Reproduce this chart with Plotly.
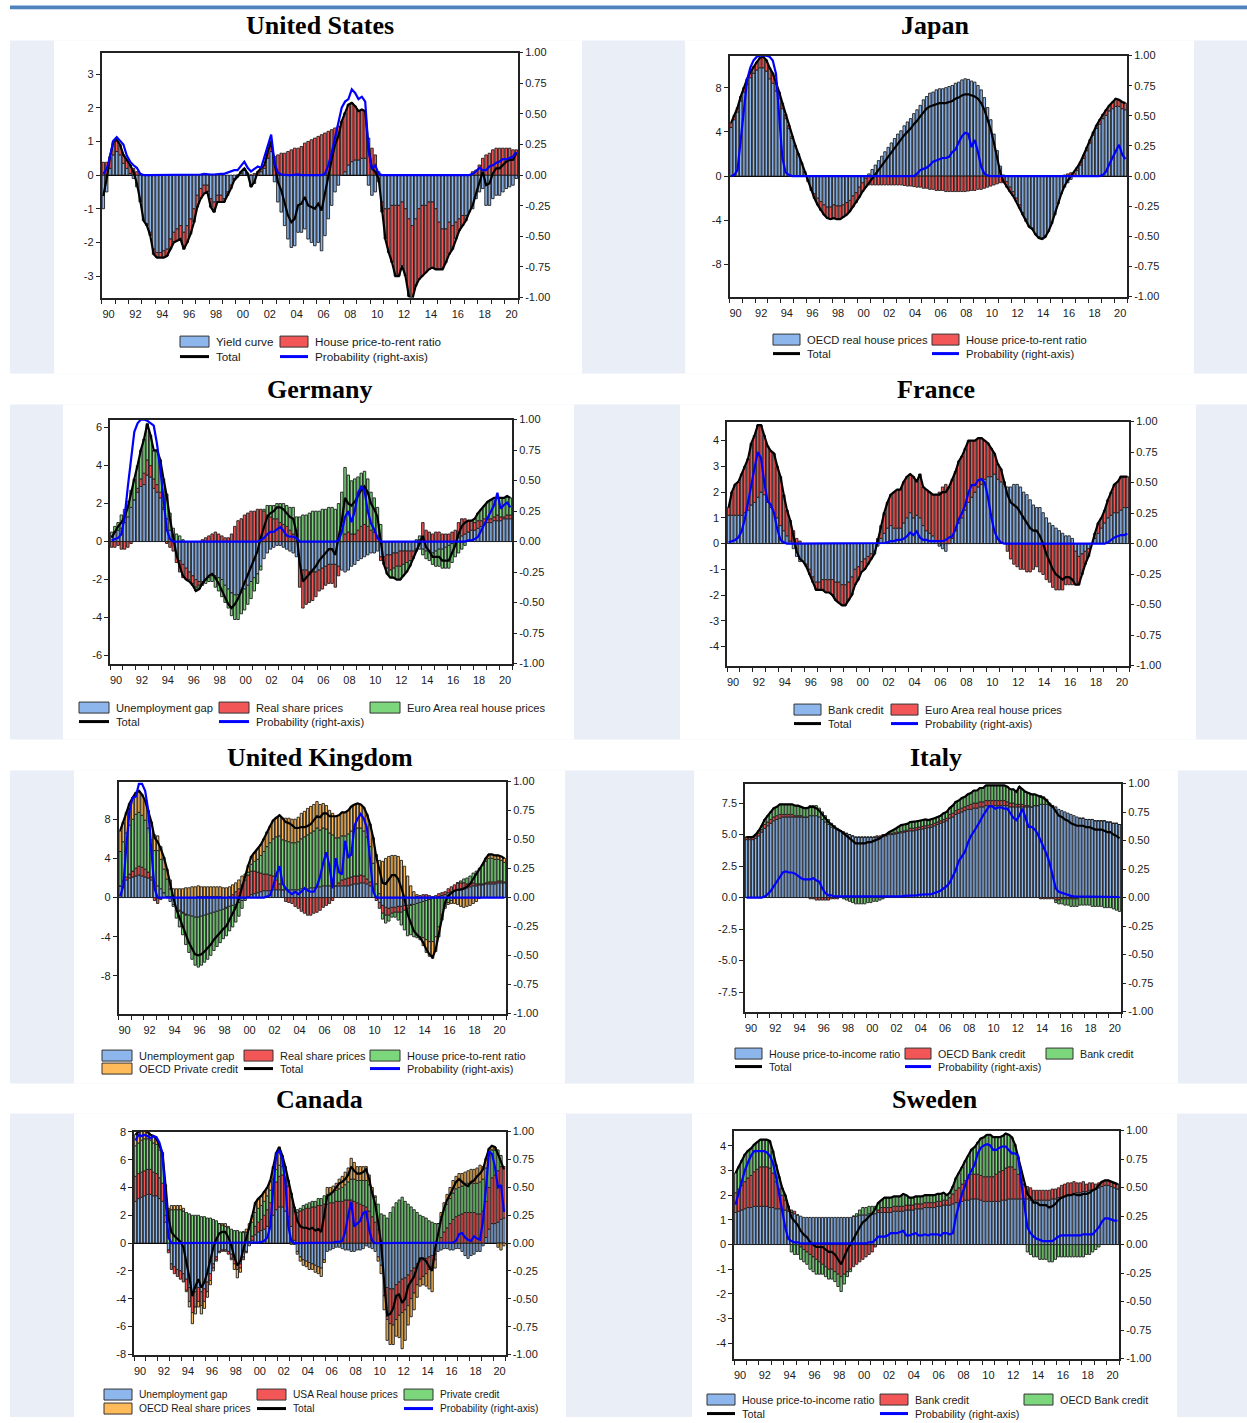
import plotly.graph_objects as go

W, H = 1247, 1423

# Quarterly observations 1990Q1 .. 2020Q4, plotted at mid-quarter
QUARTERS = [y + (q + 0.5) / 4 for y in range(1990, 2021) for q in range(4)]
YEAR_TICKS = list(range(1990, 2022))
YEAR_LABELS = [f"{y % 100:02d}" if (y % 2 == 0 and y <= 2020) else "" for y in YEAR_TICKS]
PROB_TICKS = [-1.0, -0.75, -0.5, -0.25, 0.0, 0.25, 0.5, 0.75, 1.0]
PROB_LABELS = ["-1.00", "-0.75", "-0.50", "-0.25", "0.00", "0.25", "0.50", "0.75", "1.00"]

# ---------------- United States ----------------
US_YIELD = [-1.0, -0.5, 0.2, 0.6, 0.7, 0.6, 0.35, 0.2,
            0.05, -0.1, -0.35, -0.8, -1.35, -1.45, -1.7, -2.2,
            -2.3, -2.3, -2.25, -2.2, -1.9, -1.7, -1.6, -1.5,
            -1.7, -1.5, -1.3, -1.0, -0.6, -0.4, -0.3, -0.3,
            -0.7, -0.8, -0.6, -0.6, -0.7, -0.5, -0.3, -0.1,
            -0.05, 0.05, 0.15, 0.05, -0.35, -0.25, 0.0, 0.1,
            0.2, 0.5, 0.7, -0.2, -0.8, -1.1, -1.5, -1.9,
            -2.15, -2.1, -1.7, -1.7, -1.6, -1.9, -2.0, -2.1,
            -2.0, -2.25, -1.8, -1.3, -0.9, -0.5, -0.3, 0.0,
            0.1, 0.3, 0.4, 0.45, 0.45, 0.5, 0.5, -0.3,
            -0.6, -0.5, -0.2, -0.8, -1.0, -1.0, -0.9, -0.9,
            -0.9, -0.8, -1.0, -1.3, -1.5, -1.3, -1.0, -0.9,
            -0.9, -0.8, -0.8, -1.0, -1.4, -1.6, -1.6, -1.4,
            -1.5, -1.4, -1.3, -1.2, -1.2, -1.1, -1.0, -0.7,
            -0.5, -0.4, -0.9, -0.9, -0.7, -0.6, -0.6, -0.5,
            -0.4, -0.35, -0.3, -0.1]
US_HPR = [0.38, 0.38, 0.35, 0.4, 0.35, 0.3, 0.25, 0.25,
          0.25, 0.2, 0.1, 0.05, 0.0, -0.05, -0.1, -0.15,
          -0.15, -0.15, -0.2, -0.2, -0.3, -0.3, -0.35, -0.4,
          -0.5, -0.5, -0.45, -0.4, -0.35, -0.3, -0.25, -0.2,
          -0.25, -0.3, -0.2, -0.2, -0.1, -0.1, -0.1, -0.05,
          0.0, 0.05, 0.05, 0.0, 0.0, 0.05, 0.1, 0.1,
          0.1, 0.2, 0.3, 0.55, 0.6, 0.65, 0.65, 0.7,
          0.75, 0.8, 0.8, 0.85, 0.95, 1.0, 1.05, 1.1,
          1.15, 1.2, 1.25, 1.3, 1.35, 1.4, 1.45, 1.6,
          1.75, 1.8, 1.75, 1.6, 1.45, 1.45, 1.4, 1.1,
          0.8, 0.6, 0.1, -0.3, -0.9, -1.3, -1.7, -2.1,
          -2.1, -1.9, -2.0, -2.3, -2.2, -2.0, -2.1, -2.1,
          -2.0, -2.0, -1.95, -1.8, -1.4, -1.2, -1.0, -0.95,
          -0.7, -0.5, -0.35, -0.3, -0.15, 0.0, 0.1, 0.15,
          0.3, 0.5, 0.6, 0.65, 0.75, 0.8, 0.8, 0.8,
          0.8, 0.8, 0.75, 0.75]
US_PROB = [0.01, 0.05, 0.15, 0.28, 0.31, 0.28, 0.25, 0.16,
           0.11, 0.08, 0.06, 0.01, 0.0, 0.0, 0.0, 0.0,
           0.0, 0.0, 0.0, 0.0, 0.0, 0.0, 0.0, 0.0,
           0.0, 0.0, 0.0, 0.0, 0.0, 0.005, 0.01, 0.005,
           0.005, 0.005, 0.01, 0.01, 0.01, 0.02, 0.03, 0.04,
           0.04, 0.08, 0.11, 0.06, 0.03, 0.05, 0.07, 0.06,
           0.15, 0.25, 0.33, 0.1, 0.02, 0.005, 0.0, 0.0,
           0.0, 0.005, 0.005, 0.0, 0.0, 0.0, 0.0, 0.0,
           0.0, 0.0, 0.01, 0.08, 0.18, 0.3, 0.42, 0.55,
           0.6, 0.62, 0.7, 0.67, 0.62, 0.64, 0.6, 0.2,
           0.05, 0.08, 0.01, 0.0, 0.0, 0.0, 0.0, 0.0,
           0.0, 0.0, 0.0, 0.0, 0.0, 0.0, 0.0, 0.0,
           0.0, 0.0, 0.0, 0.0, 0.0, 0.0, 0.0, 0.0,
           0.0, 0.0, 0.0, 0.0, 0.0, 0.0, 0.01, 0.03,
           0.06, 0.04, 0.04, 0.07, 0.08, 0.1, 0.11, 0.13,
           0.13, 0.14, 0.15, 0.19]

# ---------------- Japan ----------------
JP_HOUSE = [4.4, 5.1, 5.8, 6.8, 7.6, 8.3, 8.9, 9.3,
            9.6, 9.8, 9.8, 9.5, 8.8, 8.4, 7.7, 7.0,
            6.1, 5.2, 4.3, 3.4, 2.7, 2.0, 1.2, 0.4,
            -0.4, -1.1, -1.6, -2.0, -2.3, -2.6, -2.8, -2.8,
            -2.6, -2.7, -2.7, -2.6, -2.4, -2.2, -1.8, -1.5,
            -1.0, -0.6, -0.2, 0.2, 0.6, 1.0, 1.4, 1.8,
            2.2, 2.6, 3.0, 3.4, 3.8, 4.1, 4.55, 4.9,
            5.2, 5.65, 6.0, 6.4, 6.9, 7.2, 7.5, 7.6,
            7.8, 7.9, 7.9, 8.0, 8.1, 8.2, 8.4, 8.5,
            8.7, 8.8, 8.75, 8.6, 8.5, 8.2, 7.8, 7.1,
            6.2, 5.1, 3.8, 2.3, 0.9, 0.1, -0.5, -1.0,
            -1.4, -2.0, -2.6, -3.3, -3.9, -4.5, -4.7, -5.2,
            -5.5, -5.6, -5.4, -5.0, -4.3, -3.5, -2.5, -1.6,
            -1.0, -0.6, -0.3, 0.0, 0.5, 1.0, 1.6, 2.3,
            3.0, 3.7, 4.3, 4.7, 5.2, 5.5, 5.9, 6.1,
            6.3, 6.3, 6.1, 6.0]
JP_HPR = [0.4, 0.4, 0.4, 0.4, 0.4, 0.5, 0.5, 0.6,
          0.7, 0.9, 1.0, 1.0, 1.0, 0.9, 0.8, 0.6,
          0.5, 0.4, 0.3, 0.2, 0.1, 0.0, 0.0, 0.0,
          -0.1, -0.2, -0.4, -0.6, -0.8, -0.9, -1.0, -1.1,
          -1.2, -1.2, -1.2, -1.1, -1.1, -1.0, -1.0, -0.9,
          -0.9, -0.8, -0.8, -0.8, -0.8, -0.8, -0.8, -0.8,
          -0.8, -0.8, -0.8, -0.8, -0.8, -0.8, -0.85, -0.9,
          -0.9, -0.95, -1.0, -1.0, -1.1, -1.1, -1.2, -1.2,
          -1.3, -1.3, -1.3, -1.4, -1.4, -1.4, -1.4, -1.4,
          -1.4, -1.4, -1.35, -1.3, -1.3, -1.2, -1.2, -1.1,
          -1.0, -0.9, -0.8, -0.7, -0.6, -0.6, -0.5, -0.4,
          -0.4, -0.3, -0.3, -0.2, -0.2, -0.1, -0.1, -0.1,
          -0.1, -0.1, -0.1, 0.0, 0.0, 0.0, 0.0, 0.0,
          0.1, 0.2, 0.3, 0.3, 0.3, 0.3, 0.3, 0.3,
          0.3, 0.3, 0.3, 0.4, 0.4, 0.5, 0.5, 0.6,
          0.7, 0.6, 0.6, 0.6]
JP_PROB = [0.0, 0.01, 0.05, 0.3, 0.6, 0.8, 0.9, 0.96,
           0.99, 1.0, 1.0, 1.0, 0.99, 0.96, 0.85, 0.5,
           0.15, 0.03, 0.01, 0.0, 0.0, 0.0, 0.0, 0.0,
           0.0, 0.0, 0.0, 0.0, 0.0, 0.0, 0.0, 0.0,
           0.0, 0.0, 0.0, 0.0, 0.0, 0.0, 0.0, 0.0,
           0.0, 0.0, 0.0, 0.0, 0.0, 0.0, 0.0, 0.0,
           0.0, 0.0, 0.0, 0.0, 0.0, 0.0, 0.0, 0.0,
           0.0, 0.0, 0.02, 0.05, 0.06, 0.07, 0.09, 0.12,
           0.13, 0.14, 0.15, 0.15, 0.16, 0.2, 0.22, 0.28,
           0.33, 0.36, 0.35, 0.24, 0.3, 0.2, 0.08, 0.02,
           0.005, 0.0, 0.0, 0.0, 0.0, 0.0, 0.0, 0.0,
           0.0, 0.0, 0.0, 0.0, 0.0, 0.0, 0.0, 0.0,
           0.0, 0.0, 0.0, 0.0, 0.0, 0.0, 0.0, 0.0,
           0.0, 0.0, 0.0, 0.0, 0.0, 0.0, 0.0, 0.0,
           0.0, 0.0, 0.0, 0.0, 0.01, 0.04, 0.1, 0.15,
           0.2, 0.26, 0.18, 0.14]

# ---------------- Germany ----------------
DE_UNEMP = [0.3, 0.5, 0.6, 0.7, 1.0, 1.3, 1.8, 2.2,
            2.6, 2.9, 3.0, 3.5, 3.4, 2.8, 2.6, 2.3,
            1.7, 1.2, 0.6, 0.1, -0.6, -1.0, -1.2, -1.4,
            -1.6, -1.8, -2.0, -2.1, -2.1, -2.0, -1.9, -1.8,
            -1.8, -1.9, -2.0, -2.3, -2.5, -2.7, -2.8, -2.8,
            -2.7, -2.5, -2.3, -2.1, -1.9, -1.7, -1.3, -0.9,
            -0.6, -0.4, -0.3, -0.2, -0.2, -0.3, -0.4, -0.5,
            -0.6, -0.8, -1.2, -1.5, -1.5, -1.6, -1.6, -1.6,
            -1.5, -1.4, -1.3, -1.2, -1.2, -1.2, -1.3, -1.5,
            -1.6, -1.5, -1.3, -1.2, -1.0, -0.9, -0.8, -0.7,
            -0.6, -0.6, -0.5, -0.8, -0.8, -0.7, -0.7, -0.6,
            -0.6, -0.5, -0.5, -0.5, -0.5, -0.5, -0.4, -0.4,
            -0.4, -0.5, -0.5, -0.6, -0.5, -0.4, -0.4, -0.3,
            -0.2, -0.1, 0.0, 0.2, 0.3, 0.4, 0.5, 0.6,
            0.6, 0.7, 0.8, 0.9, 1.0, 1.0, 1.1, 1.1,
            1.1, 1.2, 1.2, 1.2]
DE_SHARE = [-0.3, -0.3, -0.2, -0.4, -0.4, -0.3, -0.1, 0.0,
            0.2, 0.4, 0.6, 0.8, 0.6, 0.5, 0.4, 0.3,
            0.1, -0.1, -0.3, -0.5, -0.5, -0.6, -0.7, -0.6,
            -0.4, -0.4, -0.4, -0.2, 0.1, 0.2, 0.3, 0.4,
            0.5, 0.4, 0.3, 0.2, 0.2, 0.4, 0.8, 1.1,
            1.2, 1.4, 1.5, 1.6, 1.6, 1.7, 1.7, 1.6,
            1.4, 1.3, 1.2, 1.2, 1.0, 0.9, 0.8, 0.6,
            0.4, 0.0, -1.2, -2.0, -1.8, -1.6, -1.5, -1.3,
            -1.1, -1.1, -1.0, -1.0, -1.0, -1.2, -0.5, 0.0,
            0.4, 0.5, 0.4, 0.4, 0.6, 0.8, 0.9, 0.8,
            0.6, 0.5, 0.3, -0.2, -0.4, -0.7, -0.8, -0.8,
            -0.7, -0.8, -0.7, -0.6, -0.5, -0.3, -0.1, 0.1,
            1.0, 0.6, 0.5, 0.4, 0.5, 0.5, 0.4, 0.4,
            0.4, 0.5, 0.6, 0.8, 0.9, 0.8, 0.6, 0.5,
            0.4, 0.4, 0.3, 0.3, 0.2, 0.2, 0.2, 0.3,
            0.2, 0.1, 0.2, 0.2]
DE_HOUSE = [0.2, 0.3, 0.4, 0.7, 0.7, 0.8, 0.9, 1.1,
            1.2, 1.5, 1.8, 1.9, 1.6, 1.5, 1.8, 1.7,
            1.5, 1.3, 0.9, 0.6, 0.4, 0.3, 0.1, 0.0,
            -0.1, -0.1, -0.2, -0.2, -0.2, -0.2, -0.2, -0.3,
            -0.6, -0.7, -0.9, -0.9, -1.0, -1.2, -1.3, -1.3,
            -1.1, -1.1, -1.0, -0.9, -0.7, -0.5, -0.2, 0.1,
            0.5, 0.6, 0.7, 0.8, 1.0, 1.1, 1.1, 1.2,
            1.4, 1.3, 1.3, 1.4, 1.4, 1.5, 1.6, 1.6,
            1.6, 1.7, 1.7, 1.8, 1.8, 1.7, 2.0, 2.6,
            3.5, 3.0, 2.8, 2.9, 2.8, 2.8, 2.8, 2.5,
            2.0, 1.8, 1.5, 0.9, 0.0, -0.3, -0.4, -0.5,
            -0.7, -0.7, -0.6, -0.5, -0.3, -0.1, 0.1, 0.2,
            -0.3, -0.4, -0.5, -0.6, -0.8, -0.9, -1.0, -1.1,
            -1.2, -1.0, -0.8, -0.6, -0.4, -0.2, 0.0, 0.0,
            0.2, 0.4, 0.6, 0.7, 0.9, 1.0, 1.0, 0.9,
            1.0, 1.0, 1.0, 0.9]
DE_PROB = [0.01, 0.02, 0.03, 0.06, 0.2, 0.45, 0.7, 0.9,
           0.97, 1.0, 1.0, 0.99, 0.97, 0.95, 0.8, 0.6,
           0.35, 0.1, 0.02, 0.0, 0.0, 0.0, 0.0, 0.0,
           0.0, 0.0, 0.0, 0.0, 0.0, 0.0, 0.0, 0.0,
           0.0, 0.0, 0.0, 0.0, 0.0, 0.0, 0.0, 0.0,
           0.0, 0.0, 0.0, 0.0, 0.0, 0.0, 0.01, 0.03,
           0.06, 0.08, 0.08, 0.1, 0.12, 0.09, 0.05, 0.04,
           0.04, 0.03, 0.0, 0.0, 0.0, 0.0, 0.0, 0.0,
           0.0, 0.0, 0.0, 0.0, 0.0, 0.0, 0.01, 0.08,
           0.2, 0.25, 0.16, 0.25, 0.4, 0.45, 0.42, 0.25,
           0.15, 0.1, 0.03, 0.0, 0.0, 0.0, 0.0, 0.0,
           0.0, 0.0, 0.0, 0.0, 0.0, 0.0, 0.0, 0.0,
           0.0, 0.0, 0.0, 0.0, 0.0, 0.0, 0.0, 0.0,
           0.0, 0.0, 0.0, 0.0, 0.0, 0.0, 0.01, 0.01,
           0.02, 0.04, 0.09, 0.14, 0.2, 0.24, 0.3, 0.4,
           0.27, 0.3, 0.32, 0.28]

# ---------------- France ----------------
FR_BANK = [1.1, 1.1, 1.1, 1.1, 1.1, 1.2, 1.3, 1.5,
           1.6, 1.8, 2.0, 1.9, 1.6, 1.4, 1.2, 1.0,
           0.7, 0.5, 0.3, 0.1, -0.2, -0.5, -0.7, -0.7,
           -0.8, -1.0, -1.3, -1.5, -1.5, -1.4, -1.4, -1.4,
           -1.4, -1.5, -1.5, -1.6, -1.6, -1.5, -1.3, -1.0,
           -0.9, -0.7, -0.6, -0.5, -0.4, -0.3, -0.1, 0.2,
           0.4, 0.6, 0.7, 0.6, 0.6, 0.6, 0.8, 1.0,
           1.2, 1.0, 1.1, 1.0, 0.7, 0.5, 0.4, 0.3,
           0.1, -0.1, -0.2, -0.3, 0.0, 0.2, 0.5, 0.8,
           1.0, 1.3, 1.6, 1.8, 2.0, 2.2, 2.3, 2.5,
           2.6, 2.6, 2.7, 2.5, 2.4, 2.3, 2.2, 2.2,
           2.3, 2.3, 2.2, 2.0, 1.9, 1.7, 1.5, 1.4,
           1.4, 1.2, 1.0, 0.8, 0.7, 0.6, 0.5, 0.4,
           0.3, 0.3, 0.2, -0.3, -0.5, -0.4, -0.3, -0.2,
           0.0, 0.2, 0.4, 0.6, 0.8, 1.0, 1.1, 1.2,
           1.2, 1.3, 1.4, 1.4]
FR_HOUSE = [0.3, 0.9, 1.2, 1.3, 1.6, 1.8, 2.0, 2.4,
            2.6, 2.8, 2.6, 2.3, 2.2, 2.2, 2.3, 2.0,
            1.9, 1.4, 1.0, 0.8, 0.5, 0.2, 0.1, 0.0,
            -0.1, -0.2, -0.2, -0.3, -0.3, -0.4, -0.5, -0.5,
            -0.6, -0.7, -0.8, -0.8, -0.8, -0.7, -0.7, -0.6,
            -0.5, -0.4, -0.4, -0.3, -0.2, -0.1, 0.2, 0.5,
            0.8, 1.0, 1.2, 1.4, 1.5, 1.5, 1.6, 1.6,
            1.5, 1.6, 1.3, 1.7, 1.5, 1.6, 1.6, 1.6,
            1.8, 2.0, 2.2, 2.3, 2.2, 2.3, 2.3, 2.4,
            2.4, 2.4, 2.4, 2.2, 2.0, 1.9, 1.8, 1.5,
            1.3, 1.1, 0.8, 0.6, 0.5, 0.1, -0.3, -0.6,
            -0.8, -0.9, -1.0, -1.0, -1.1, -1.1, -1.0, -0.9,
            -1.1, -1.2, -1.4, -1.5, -1.7, -1.8, -1.8, -1.8,
            -1.6, -1.6, -1.6, -1.3, -1.1, -0.8, -0.5, -0.3,
            0.0, 0.2, 0.4, 0.4, 0.5, 0.7, 0.9, 1.1,
            1.2, 1.3, 1.2, 1.2]
FR_PROB = [0.01, 0.02, 0.03, 0.05, 0.1, 0.2, 0.35, 0.5,
           0.62, 0.75, 0.7, 0.5, 0.35, 0.32, 0.25, 0.12,
           0.03, 0.01, 0.0, 0.0, 0.0, 0.0, 0.0, 0.0,
           0.0, 0.0, 0.0, 0.0, 0.0, 0.0, 0.0, 0.0,
           0.0, 0.0, 0.0, 0.0, 0.0, 0.0, 0.0, 0.0,
           0.0, 0.0, 0.0, 0.0, 0.0, 0.0, 0.0, 0.0,
           0.005, 0.01, 0.02, 0.02, 0.03, 0.03, 0.04, 0.06,
           0.09, 0.07, 0.1, 0.05, 0.03, 0.03, 0.02, 0.02,
           0.02, 0.02, 0.02, 0.03, 0.05, 0.06, 0.12, 0.2,
           0.25, 0.32, 0.42, 0.48, 0.48, 0.52, 0.53, 0.5,
           0.38, 0.22, 0.1, 0.04, 0.01, 0.0, 0.0, 0.0,
           0.0, 0.0, 0.0, 0.0, 0.0, 0.0, 0.0, 0.0,
           0.0, 0.0, 0.0, 0.0, 0.0, 0.0, 0.0, 0.0,
           0.0, 0.0, 0.0, 0.0, 0.0, 0.0, 0.0, 0.0,
           0.0, 0.0, 0.0, 0.0, 0.0, 0.01, 0.03, 0.05,
           0.06, 0.07, 0.07, 0.08]

# ---------------- United Kingdom ----------------
UK_UNEMP = [1.2, 1.5, 1.8, 2.0, 2.1, 2.2, 2.3, 2.2,
            2.1, 2.0, 1.8, 1.5, 1.2, 0.9, 0.5, 0.0,
            -0.4, -0.7, -1.0, -1.3, -1.5, -1.7, -1.8, -1.9,
            -2.0, -2.0, -1.9, -1.8, -1.7, -1.6, -1.5, -1.4,
            -1.3, -1.2, -1.0, -0.9, -0.8, -0.7, -0.5, -0.3,
            -0.1, 0.1, 0.3, 0.4, 0.5, 0.6, 0.7, 0.7,
            0.7, 0.8, 0.8, 0.8, 0.8, 0.8, 0.8, 0.8,
            0.8, 0.8, 0.9, 0.9, 0.9, 1.0, 1.0, 1.1,
            1.1, 1.2, 1.2, 1.2, 1.2, 1.2, 1.2, 1.2,
            1.2, 1.2, 1.3, 1.4, 1.4, 1.5, 1.5, 1.4,
            1.2, 0.8, 0.0, -0.5, -0.8, -1.0, -1.1, -1.0,
            -1.0, -0.9, -0.9, -0.8, -0.8, -0.7, -0.7, -0.6,
            -0.5, -0.4, -0.3, -0.2, -0.1, 0.0, 0.1, 0.2,
            0.3, 0.5, 0.6, 0.7, 0.8, 0.9, 1.0, 1.0,
            1.1, 1.2, 1.2, 1.3, 1.3, 1.4, 1.4, 1.4,
            1.4, 1.5, 1.5, 1.5]
UK_SHARE = [0.0, 0.2, 0.3, 0.4, 0.6, 0.8, 0.9, 0.9,
            0.8, 0.6, 0.3, -0.3, -0.6, -0.2, 0.0, 0.1,
            0.1, 0.0, -0.1, -0.1, -0.1, -0.1, 0.0, 0.0,
            0.0, 0.1, 0.1, 0.1, 0.1, 0.1, 0.1, 0.1,
            0.1, 0.0, -0.1, 0.1, 0.3, 0.6, 0.9, 1.3,
            1.8, 2.2, 2.4, 2.3, 2.1, 1.9, 1.7, 1.7,
            1.6, 1.4, 1.0, 0.6, 0.0, -0.4, -0.5, -0.6,
            -0.9, -1.1, -1.4, -1.6, -1.8, -1.8, -1.6, -1.5,
            -1.3, -1.0, -0.8, -0.6, -0.3, 0.0, 0.3, 0.6,
            0.7, 0.8, 0.8, 0.8, 0.8, 0.8, 0.7, 0.5,
            0.4, 0.1, -0.3, -0.6, -0.8, -0.8, -0.7, -0.6,
            -0.5, -0.6, -0.6, -0.5, -0.3, -0.1, 0.0, 0.1,
            0.2, 0.3, 0.3, 0.2, 0.1, 0.2, 0.3, 0.3,
            0.3, 0.4, 0.5, 0.6, 0.7, 0.6, 0.5, 0.4,
            0.3, 0.3, 0.2, 0.1, 0.1, 0.1, 0.2, 0.2,
            0.2, 0.2, 0.2, 0.1]
UK_HPR = [3.5, 4.0, 4.5, 5.0, 5.3, 5.5, 5.5, 5.3,
          5.0, 4.5, 3.8, 3.3, 3.6, 3.0, 2.4, 1.8,
          0.8, -0.2, -1.0, -1.6, -2.2, -3.0, -3.8, -4.4,
          -4.9, -5.1, -5.0, -4.8, -4.6, -4.3, -3.9, -3.6,
          -3.3, -3.0, -2.8, -2.5, -2.2, -1.8, -1.4, -0.8,
          -0.2, 0.3, 0.7, 1.0, 1.3, 1.8, 2.3, 2.8,
          3.3, 3.8, 4.4, 4.9, 5.1, 5.0, 4.9, 4.8,
          4.8, 4.9, 5.1, 5.3, 5.5, 5.6, 5.8, 6.0,
          5.8, 5.9, 5.8, 5.4, 5.2, 4.9, 4.6, 4.5,
          4.4, 4.5, 4.7, 4.8, 4.9, 4.8, 4.6, 4.3,
          3.6, 2.6, 1.4, 0.4, -0.6, -0.8, -0.6, -0.4,
          -0.5, -0.8, -1.3, -2.0, -2.8, -3.0, -3.3, -3.5,
          -3.5, -3.7, -4.0, -4.3, -4.4, -4.0, -3.0, -1.8,
          -0.9, -0.5, -0.3, -0.1, 0.0, 0.2, 0.4, 0.6,
          0.8, 1.0, 1.3, 1.6, 1.9, 2.2, 2.4, 2.4,
          2.3, 2.2, 2.1, 2.0]
UK_CREDIT = [2.1, 2.0, 2.1, 2.2, 2.2, 2.2, 2.2, 2.1,
             2.0, 1.8, 1.8, 1.6, 1.5, 1.3, 1.2, 1.0,
             0.9, 0.9, 0.9, 0.9, 0.9, 1.0, 1.0, 1.1,
             1.1, 1.1, 1.0, 1.0, 1.0, 1.0, 1.0, 1.0,
             1.0, 1.0, 1.0, 1.0, 1.0, 0.9, 0.9, 0.9,
             0.6, 0.7, 0.8, 0.9, 1.0, 1.1, 1.3, 1.5,
             1.7, 1.9, 2.0, 2.1, 2.2, 2.3, 2.4, 2.4,
             2.4, 2.5, 2.6, 2.6, 2.7, 2.7, 2.7, 2.7,
             2.6, 2.5, 2.4, 2.3, 2.2, 2.2, 2.3, 2.4,
             2.4, 2.4, 2.5, 2.5, 2.5, 2.4, 2.4, 2.3,
             2.3, 2.6, 3.0, 3.4, 3.7, 4.0, 4.2, 4.3,
             4.3, 4.2, 3.8, 3.2, 2.2, 1.2, 0.6, 0.2,
             -0.3, -0.8, -1.3, -1.5, -1.7, -1.5, -1.0, -0.5,
             -0.2, -0.2, -0.3, -0.5, -0.7, -0.9, -1.0, -0.9,
             -0.8, -0.6, -0.4, -0.1, 0.1, 0.3, 0.4, 0.4,
             0.4, 0.4, 0.4, 0.4]
UK_PROB = [0.01, 0.1, 0.45, 0.75, 0.86, 0.87, 0.98, 0.98,
           0.92, 0.75, 0.4, 0.08, 0.0, 0.0, 0.0, 0.0,
           0.0, 0.0, 0.0, 0.0, 0.0, 0.0, 0.0, 0.0,
           0.0, 0.0, 0.0, 0.0, 0.0, 0.0, 0.0, 0.0,
           0.0, 0.0, 0.0, 0.0, 0.0, 0.0, 0.0, 0.0,
           0.0, 0.0, 0.0, 0.0, 0.0, 0.0, 0.0, 0.01,
           0.02, 0.1, 0.2, 0.27, 0.12, 0.08, 0.05, 0.03,
           0.05, 0.03, 0.05, 0.08, 0.06, 0.05, 0.05, 0.1,
           0.18, 0.3, 0.39, 0.27, 0.08, 0.34, 0.22, 0.2,
           0.49, 0.35, 0.37, 0.62, 0.68, 0.72, 0.68, 0.6,
           0.3, 0.05, 0.0, 0.0, 0.0, 0.0, 0.0, 0.0,
           0.0, 0.0, 0.0, 0.0, 0.0, 0.0, 0.0, 0.0,
           0.0, 0.0, 0.0, 0.0, 0.0, 0.0, 0.0, 0.0,
           0.0, 0.0, 0.0, 0.0, 0.0, 0.0, 0.0, 0.0,
           0.0, 0.0, 0.0, 0.0, 0.0, 0.0, 0.0, 0.0,
           0.0, 0.0, 0.0, 0.0]

# ---------------- Italy ----------------
IT_HPI = [4.6, 4.6, 4.6, 4.7, 4.9, 5.2, 5.5, 5.7,
          5.9, 6.1, 6.2, 6.3, 6.4, 6.4, 6.4, 6.4,
          6.4, 6.4, 6.4, 6.4, 6.4, 6.5, 6.5, 6.5,
          6.4, 6.2, 6.0, 5.8, 5.6, 5.5, 5.4, 5.3,
          5.2, 5.1, 5.0, 4.9, 4.8, 4.8, 4.8, 4.8,
          4.8, 4.8, 4.8, 4.8, 4.8, 4.9, 4.9, 5.0,
          5.0, 5.05, 5.1, 5.15, 5.2, 5.25, 5.3, 5.3,
          5.35, 5.4, 5.45, 5.5, 5.55, 5.6, 5.7, 5.8,
          5.9, 6.0, 6.1, 6.3, 6.4, 6.6, 6.7, 6.8,
          6.9, 7.0, 7.0, 7.1, 7.1, 7.2, 7.2, 7.3,
          7.3, 7.3, 7.3, 7.3, 7.3, 7.3, 7.3, 7.2,
          7.2, 7.2, 7.2, 7.2, 7.2, 7.2, 7.2, 7.3,
          7.3, 7.4, 7.4, 7.4, 7.3, 7.3, 7.2, 7.0,
          6.9, 6.8, 6.7, 6.6, 6.5, 6.4, 6.3, 6.3,
          6.2, 6.2, 6.2, 6.1, 6.1, 6.1, 6.1, 6.0,
          6.0, 5.9, 5.9, 5.8]
IT_OECD = [0.2, 0.2, 0.2, 0.2, 0.2, 0.2, 0.3, 0.3,
           0.3, 0.3, 0.3, 0.3, 0.2, 0.2, 0.2, 0.2,
           0.1, 0.1, 0.1, 0.0, 0.0, -0.1, -0.1, -0.2,
           -0.2, -0.2, -0.2, -0.2, -0.1, -0.1, -0.1, 0.0,
           0.0, 0.0, 0.0, 0.0, 0.0, 0.0, 0.0, 0.0,
           0.0, 0.0, 0.0, 0.1, 0.1, 0.1, 0.1, 0.1,
           0.1, 0.1, 0.1, 0.1, 0.1, 0.1, 0.2, 0.2,
           0.2, 0.2, 0.2, 0.2, 0.2, 0.2, 0.2, 0.2,
           0.2, 0.2, 0.2, 0.3, 0.3, 0.3, 0.3, 0.3,
           0.3, 0.3, 0.4, 0.4, 0.4, 0.4, 0.4, 0.4,
           0.4, 0.4, 0.4, 0.4, 0.4, 0.4, 0.3, 0.3,
           0.3, 0.2, 0.2, 0.2, 0.1, 0.1, 0.0, 0.0,
           0.0, -0.1, -0.1, -0.1, -0.1, -0.1, -0.2, -0.2,
           -0.1, -0.1, -0.1, -0.1, -0.1, -0.1, 0.0, 0.0,
           0.0, 0.0, 0.0, 0.0, 0.0, 0.0, 0.0, 0.0,
           0.0, 0.0, 0.0, 0.0]
IT_BANK = [0.0, 0.0, 0.0, 0.1, 0.2, 0.3, 0.4, 0.5,
           0.6, 0.7, 0.7, 0.8, 0.8, 0.8, 0.8, 0.8,
           0.8, 0.8, 0.7, 0.7, 0.7, 0.8, 0.8, 0.8,
           0.7, 0.6, 0.5, 0.4, 0.3, 0.2, 0.1, 0.0,
           -0.1, -0.2, -0.3, -0.4, -0.5, -0.5, -0.5, -0.5,
           -0.4, -0.4, -0.3, -0.3, -0.2, -0.1, 0.0, 0.1,
           0.2, 0.3, 0.4, 0.5, 0.5, 0.5, 0.5, 0.5,
           0.5, 0.5, 0.5, 0.5, 0.4, 0.4, 0.4, 0.4,
           0.4, 0.5, 0.5, 0.5, 0.6, 0.7, 0.7, 0.8,
           0.8, 0.9, 0.9, 1.0, 1.0, 1.1, 1.1, 1.2,
           1.2, 1.2, 1.2, 1.2, 1.2, 1.2, 1.2, 1.1,
           1.1, 1.0, 1.4, 1.2, 1.1, 1.0, 1.0, 0.9,
           0.8, 0.7, 0.6, 0.4, 0.2, 0.0, -0.2, -0.3,
           -0.4, -0.5, -0.5, -0.6, -0.6, -0.6, -0.6, -0.6,
           -0.6, -0.6, -0.7, -0.7, -0.7, -0.7, -0.8, -0.8,
           -0.8, -0.9, -1.0, -1.1]
IT_PROB = [0.0, 0.0, 0.0, 0.0, 0.0, 0.0, 0.01, 0.03,
           0.06, 0.1, 0.14, 0.18, 0.22, 0.23, 0.22, 0.22,
           0.21, 0.19, 0.17, 0.16, 0.16, 0.16, 0.17, 0.15,
           0.14, 0.08, 0.04, 0.02, 0.02, 0.01, 0.01, 0.01,
           0.01, 0.005, 0.005, 0.005, 0.005, 0.005, 0.005, 0.005,
           0.005, 0.005, 0.005, 0.005, 0.005, 0.005, 0.005, 0.005,
           0.005, 0.01, 0.01, 0.01, 0.015, 0.015, 0.02, 0.02,
           0.02, 0.025, 0.025, 0.03, 0.03, 0.03, 0.04, 0.05,
           0.06, 0.08, 0.1, 0.13, 0.18, 0.24, 0.32, 0.36,
           0.4, 0.48, 0.54, 0.58, 0.62, 0.67, 0.72, 0.76,
           0.8, 0.8, 0.78, 0.79, 0.79, 0.78, 0.78, 0.74,
           0.7, 0.68, 0.72, 0.78, 0.7, 0.62, 0.62, 0.6,
           0.56, 0.5, 0.44, 0.38, 0.3, 0.2, 0.08, 0.05,
           0.04, 0.03, 0.02, 0.015, 0.01, 0.01, 0.01, 0.01,
           0.005, 0.005, 0.005, 0.005, 0.005, 0.005, 0.005, 0.005,
           0.005, 0.005, 0.005, 0.005]

# ---------------- Canada ----------------
CA_UNEMP = [3.0, 3.2, 3.3, 3.4, 3.5, 3.5, 3.4, 3.4,
            3.2, 3.0, 1.5, -0.5, -1.5, -1.7, -1.9, -2.0,
            -2.2, -2.6, -3.2, -3.8, -3.5, -3.2, -3.5, -3.3,
            -2.8, -2.2, -1.5, -1.0, -0.6, -0.5, -0.5, -0.6,
            -0.8, -1.2, -1.6, -1.5, -1.0, -0.6, -0.2, 0.2,
            0.6, 0.8, 0.9, 1.0, 1.2, 1.5, 2.0, 2.4,
            2.6, 2.6, 2.3, 1.9, 1.2, 0.2, -0.6, -1.0,
            -1.2, -1.3, -1.4, -1.5, -1.6, -1.7, -1.8, -1.2,
            -0.6, -0.5, -0.4, -0.3, -0.3, -0.4, -0.5, -0.5,
            -0.6, -0.6, -0.5, -0.5, -0.4, -0.2, -0.3, -0.4,
            -0.6, -1.0, -1.6, -2.6, -3.2, -3.3, -3.3, -3.0,
            -2.8, -2.6, -2.5, -2.3, -2.0, -1.8, -1.5, -1.3,
            -1.2, -1.1, -1.0, -0.9, -0.8, -0.6, -0.5, -0.4,
            -0.4, -0.5, -0.5, -0.4, -0.4, -0.6, -0.9, -1.1,
            -0.9, -0.8, -0.6, -0.6, -0.2, 0.4, 1.0, 1.4,
            1.4, 1.5, 1.7, 1.8]
CA_USHP = [1.8, 1.8, 1.8, 1.8, 1.8, 1.8, 1.7, 1.6,
           1.5, 1.3, 0.5, -0.2, -0.4, -0.5, -0.5, -0.6,
           -0.6, -0.8, -1.0, -1.2, -1.1, -1.0, -1.0, -0.9,
           -0.7, -0.5, -0.3, -0.2, -0.1, -0.1, -0.1, -0.2,
           -0.3, -0.3, -0.3, -0.3, -0.2, -0.1, 0.1, 0.3,
           0.6, 0.7, 0.8, 1.0, 1.2, 1.4, 1.7, 2.0,
           2.2, 2.3, 2.3, 2.2, 2.1, 2.1, 2.2, 2.3,
           2.4, 2.5, 2.5, 2.6, 2.6, 2.7, 2.7, 2.8,
           2.8, 2.9, 2.9, 3.0, 3.0, 3.0, 3.1, 3.1,
           3.1, 3.0, 2.9, 2.8, 2.7, 2.6, 2.3, 1.9,
           1.5, 1.0, 0.2, -1.2, -2.3, -2.5, -2.6, -2.5,
           -2.4, -2.4, -2.3, -2.2, -2.0, -1.8, -1.5, -1.3,
           -1.2, -1.1, -0.9, -0.8, -0.4, 0.0, 0.4, 0.8,
           1.1, 1.4, 1.7, 1.9, 2.0, 2.1, 2.2, 2.2,
           2.2, 2.2, 2.1, 2.1, 2.3, 2.6, 3.0, 3.3,
           3.5, 3.7, 3.8, 3.7]
CA_CREDIT = [2.2, 2.2, 2.3, 2.3, 2.2, 2.1, 2.1, 2.1,
             2.0, 2.0, 2.1, 2.3, 2.4, 2.4, 2.4, 2.4,
             2.3, 2.2, 2.1, 2.0, 2.0, 2.0, 1.9, 1.9,
             1.8, 1.8, 1.7, 1.6, 1.4, 1.3, 1.2, 1.1,
             1.0, 0.9, 0.9, 0.8, 0.8, 0.8, 0.9, 1.0,
             1.0, 1.0, 1.0, 1.0, 1.0, 0.9, 0.9, 0.9,
             0.8, 0.6, 0.5, 0.4, 0.3, 0.3, 0.2, 0.2,
             0.3, 0.3, 0.4, 0.4, 0.4, 0.5, 0.5, 0.6,
             0.7, 0.7, 0.8, 0.8, 0.9, 1.0, 1.1, 1.3,
             1.5, 1.6, 1.6, 1.7, 1.8, 1.9, 1.9, 1.8,
             1.8, 1.8, 1.9, 2.0, 1.8, 2.2, 2.6, 2.9,
             3.1, 3.3, 3.0, 2.8, 2.6, 2.4, 2.2, 2.0,
             1.9, 1.8, 1.6, 1.5, 1.4, 1.4, 1.5, 1.6,
             1.7, 1.8, 1.9, 2.0, 2.0, 2.0, 2.1, 2.1,
             2.1, 2.1, 2.2, 2.3, 2.3, 2.4, 2.3, 2.0,
             1.8, 1.5, 0.8, 0.0]
CA_SHARE = [0.8, 0.8, 0.7, 0.6, 0.5, 0.4, 0.5, 0.4,
            0.3, 0.2, 0.1, 0.2, 0.3, 0.3, 0.3, 0.3,
            0.2, -0.1, -0.4, -0.8, -0.5, -0.4, -0.6, -0.5,
            -0.4, -0.3, -0.2, -0.1, 0.0, 0.1, 0.2, 0.1,
            -0.1, -0.4, -0.6, -0.3, 0.0, 0.2, 0.4, 0.5,
            0.7, 0.7, 0.7, 0.7, 0.6, 0.7, 0.9, 1.2,
            1.3, 0.8, 0.4, 0.0, -0.1, -0.1, -0.2, -0.3,
            -0.4, -0.4, -0.5, -0.4, -0.5, -0.5, -0.6, -0.2,
            0.5, 0.4, 0.4, 0.5, 0.7, 0.8, 0.9, 1.0,
            1.5, 1.2, 1.0, 1.0, 1.0, 1.0, 0.7, 0.3,
            0.1, -0.3, -0.6, -1.0, -1.5, -1.5, -1.4, -1.2,
            -1.6, -2.6, -2.2, -1.4, -1.3, -1.2, -0.9, -0.5,
            -0.6, -0.9, -1.4, -1.8, -0.6, 0.0, 0.3, 0.5,
            0.7, 0.8, 0.9, 0.9, 1.0, 0.9, 0.8, 0.9,
            1.0, 1.0, 1.1, 1.2, 0.9, 0.7, 0.5, 0.3,
            0.2, -0.3, -0.5, -0.2]
CA_PROB = [0.92, 0.97, 0.96, 0.97, 0.96, 0.94, 0.96, 0.95,
           0.9, 0.8, 0.4, 0.05, 0.0, 0.0, 0.0, 0.0,
           0.0, 0.0, 0.0, 0.0, 0.0, 0.0, 0.0, 0.0,
           0.0, 0.0, 0.0, 0.0, 0.0, 0.0, 0.0, 0.0,
           0.0, 0.0, 0.0, 0.0, 0.0, 0.0, 0.0, 0.0,
           0.0, 0.005, 0.01, 0.02, 0.05, 0.15, 0.5, 0.8,
           0.83, 0.75, 0.55, 0.15, 0.02, 0.0, 0.0, 0.0,
           0.0, 0.0, 0.0, 0.0, 0.0, 0.0, 0.0, 0.0,
           0.0, 0.0, 0.005, 0.01, 0.01, 0.02, 0.1, 0.25,
           0.37, 0.15, 0.18, 0.2, 0.27, 0.28, 0.12, 0.02,
           0.0, 0.0, 0.0, 0.0, 0.0, 0.0, 0.0, 0.0,
           0.0, 0.0, 0.0, 0.0, 0.0, 0.0, 0.0, 0.0,
           0.0, 0.0, 0.0, 0.0, 0.0, 0.0, 0.0, 0.0,
           0.0, 0.0, 0.005, 0.02, 0.08, 0.09, 0.05, 0.03,
           0.02, 0.06, 0.04, 0.03, 0.2, 0.5, 0.82, 0.8,
           0.68, 0.5, 0.52, 0.28]

# ---------------- Sweden ----------------
SE_HPI = [1.3, 1.35, 1.4, 1.45, 1.5, 1.5, 1.55, 1.55,
          1.55, 1.55, 1.55, 1.5, 1.5, 1.45, 1.45, 1.4,
          1.4, 1.35, 1.3, 1.25, 1.2, 1.15, 1.1, 1.1,
          1.1, 1.1, 1.1, 1.1, 1.1, 1.1, 1.1, 1.1,
          1.1, 1.1, 1.1, 1.1, 1.1, 1.1, 1.15, 1.15,
          1.2, 1.2, 1.2, 1.25, 1.25, 1.25, 1.3, 1.3,
          1.3, 1.3, 1.3, 1.35, 1.35, 1.35, 1.35, 1.4,
          1.4, 1.4, 1.45, 1.45, 1.45, 1.5, 1.5, 1.5,
          1.5, 1.55, 1.55, 1.6, 1.6, 1.6, 1.65, 1.7,
          1.7, 1.75, 1.8, 1.8, 1.85, 1.85, 1.85, 1.8,
          1.75, 1.75, 1.75, 1.75, 1.75, 1.75, 1.8, 1.8,
          1.85, 1.85, 1.85, 1.85, 1.85, 1.85, 1.85, 1.8,
          1.8, 1.8, 1.8, 1.8, 1.8, 1.8, 1.85, 1.85,
          1.9, 1.9, 1.95, 2.0, 2.0, 2.05, 2.1, 2.1,
          2.15, 2.15, 2.2, 2.2, 2.25, 2.3, 2.35, 2.4,
          2.4, 2.35, 2.3, 2.25]
SE_BANK = [0.8, 0.9, 1.0, 1.1, 1.2, 1.3, 1.4, 1.5,
           1.6, 1.6, 1.6, 1.6, 1.4, 1.1, 0.8, 0.6,
           0.4, 0.2, 0.1, 0.1, 0.0, -0.1, -0.2, -0.3,
           -0.4, -0.5, -0.6, -0.7, -0.8, -0.9, -1.0, -1.0,
           -1.1, -1.2, -1.3, -1.2, -1.1, -1.0, -0.9, -0.8,
           -0.7, -0.6, -0.5, -0.4, -0.3, -0.1, 0.1, 0.2,
           0.2, 0.2, 0.2, 0.2, 0.2, 0.2, 0.2, 0.2,
           0.2, 0.2, 0.2, 0.2, 0.2, 0.2, 0.2, 0.2,
           0.2, 0.2, 0.2, 0.2, 0.2, 0.3, 0.4, 0.5,
           0.6, 0.7, 0.8, 0.9, 1.0, 1.0, 1.0, 1.0,
           1.0, 1.0, 1.0, 1.0, 1.1, 1.2, 1.2, 1.3,
           1.3, 1.3, 1.2, 1.0, 0.8, 0.6, 0.5, 0.5,
           0.4, 0.4, 0.4, 0.4, 0.4, 0.4, 0.4, 0.4,
           0.4, 0.5, 0.5, 0.5, 0.5, 0.5, 0.4, 0.4,
           0.4, 0.3, 0.3, 0.3, 0.2, 0.2, 0.2, 0.2,
           0.2, 0.2, 0.2, 0.2]
SE_OECD = [0.8, 0.9, 1.0, 1.1, 1.1, 1.1, 1.1, 1.1,
           1.1, 1.1, 1.1, 1.1, 0.9, 0.7, 0.5, 0.3,
           0.2, 0.0, -0.3, -0.4, -0.4, -0.5, -0.5, -0.5,
           -0.6, -0.6, -0.6, -0.5, -0.4, -0.4, -0.4, -0.4,
           -0.4, -0.5, -0.6, -0.4, -0.2, -0.1, 0.0, 0.1,
           0.2, 0.3, 0.3, 0.3, 0.3, 0.3, 0.3, 0.3,
           0.4, 0.4, 0.4, 0.4, 0.4, 0.4, 0.5, 0.4,
           0.3, 0.3, 0.3, 0.3, 0.3, 0.3, 0.3, 0.3,
           0.3, 0.3, 0.3, 0.3, 0.2, 0.2, 0.3, 0.5,
           0.6, 0.7, 0.8, 0.9, 1.0, 1.1, 1.3, 1.5,
           1.6, 1.7, 1.7, 1.6, 1.5, 1.4, 1.4, 1.4,
           1.3, 1.2, 1.0, 0.7, 0.3, 0.0, -0.3, -0.4,
           -0.5, -0.5, -0.6, -0.6, -0.6, -0.7, -0.7, -0.6,
           -0.5, -0.5, -0.5, -0.5, -0.5, -0.5, -0.5, -0.5,
           -0.5, -0.4, -0.4, -0.3, -0.2, -0.1, 0.0, 0.0,
           0.0, 0.0, 0.0, 0.0]
SE_PROB = [0.35, 0.45, 0.55, 0.65, 0.72, 0.78, 0.82, 0.82,
           0.82, 0.82, 0.81, 0.78, 0.72, 0.6, 0.45, 0.3,
           0.15, 0.05, 0.03, 0.02, 0.02, 0.01, 0.01, 0.01,
           0.01, 0.01, 0.01, 0.01, 0.01, 0.01, 0.01, 0.01,
           0.01, 0.01, 0.01, 0.01, 0.01, 0.01, 0.01, 0.01,
           0.01, 0.01, 0.01, 0.02, 0.02, 0.04, 0.07, 0.07,
           0.07, 0.08, 0.1, 0.1, 0.1, 0.11, 0.12, 0.08,
           0.08, 0.09, 0.1, 0.08, 0.08, 0.09, 0.08, 0.09,
           0.09, 0.09, 0.08, 0.1, 0.1, 0.09, 0.1, 0.25,
           0.35, 0.45, 0.52, 0.6, 0.65, 0.7, 0.8, 0.85,
           0.87, 0.88, 0.87, 0.83, 0.83, 0.85, 0.86, 0.86,
           0.83, 0.8, 0.8, 0.78, 0.55, 0.35, 0.15, 0.1,
           0.07, 0.05, 0.04, 0.03, 0.03, 0.03, 0.03, 0.05,
           0.07, 0.08, 0.08, 0.08, 0.08, 0.08, 0.08, 0.08,
           0.09, 0.09, 0.09, 0.09, 0.12, 0.15, 0.2, 0.23,
           0.23, 0.22, 0.21, 0.21]

# ---------------- styling ----------------
FILL = {"blue": "#8db6ec", "red": "#f25656", "green": "#7cd67c", "orange": "#ffbb5a"}
EDGE = "#1c1c1c"
PROB_BLUE = "#0000ff"
BAND_GRAY = "#eaeef7"
SANS = "Liberation Sans, Arial, sans-serif"
TICK_FONT = dict(family=SANS, size=11, color="#1a1a1a")
TITLE_FONT = dict(family="Liberation Serif, Times New Roman, serif", size=26, color="#000000")

# vertical page calibration of the layout grid (pixel rows -> page rows)
Y_OFFSET, Y_SCALE = 5.4, 0.9916


def rng(lo, hi, step):
    out, v = [], lo
    while v <= hi + 1e-9:
        out.append(round(v, 2))
        v += step
    return out


PANELS = [
    dict(title="United States", tx=320, ty=25, box=(101.6, 52, 518, 297), lim=3.64,
         lticks=rng(-3, 3, 1), lfmt="{:g}", lfs=11.7,
         parts=[("Yield curve", US_YIELD, "blue"), ("House price-to-rent ratio", US_HPR, "red")],
         prob=US_PROB,
         legend=[("box", "blue", "Yield curve", 180, 209, 341),
                 ("box", "red", "House price-to-rent ratio", 280, 308, 341),
                 ("line", "total", "Total", 180, 209, 356),
                 ("line", "prob", "Probability (right-axis)", 280, 308, 356)]),
    dict(title="Japan", tx=935, ty=25, box=(729.5, 55, 1127, 296), lim=10.9,
         lticks=[-8, -4, 0, 4, 8], lfmt="{:g}", lfs=11.2,
         parts=[("OECD real house prices", JP_HOUSE, "blue"), ("House price-to-rent ratio", JP_HPR, "red")],
         prob=JP_PROB,
         legend=[("box", "blue", "OECD real house prices", 773, 800, 339),
                 ("box", "red", "House price-to-rent ratio", 932, 959, 339),
                 ("line", "total", "Total", 773, 800, 353),
                 ("line", "prob", "Probability (right-axis)", 932, 959, 353)]),
    dict(title="Germany", tx=319, ty=389, box=(110, 419, 512, 663), lim=6.42,
         lticks=rng(-6, 6, 2), lfmt="{:g}", lfs=11.2,
         parts=[("Unemployment gap", DE_UNEMP, "blue"), ("Real share prices", DE_SHARE, "red"),
                ("Euro Area real house prices", DE_HOUSE, "green")],
         prob=DE_PROB,
         legend=[("box", "blue", "Unemployment gap", 79, 109, 707),
                 ("box", "red", "Real share prices", 219, 249, 707),
                 ("box", "green", "Euro Area real house prices", 370, 400, 707),
                 ("line", "total", "Total", 79, 109, 721),
                 ("line", "prob", "Probability (right-axis)", 219, 249, 721)]),
    dict(title="France", tx=936, ty=389, box=(727, 421, 1129, 665), lim=4.74,
         lticks=rng(-4, 4, 1), lfmt="{:g}", lfs=11.1,
         parts=[("Bank credit", FR_BANK, "blue"), ("Euro Area real house prices", FR_HOUSE, "red")],
         prob=FR_PROB,
         legend=[("box", "blue", "Bank credit", 794, 821, 709),
                 ("box", "red", "Euro Area real house prices", 891, 918, 709),
                 ("line", "total", "Total", 794, 821, 723),
                 ("line", "prob", "Probability (right-axis)", 891, 918, 723)]),
    dict(title="United Kingdom", tx=320, ty=757, box=(118.6, 781, 506, 1013), lim=11.84,
         lticks=[-8, -4, 0, 4, 8], lfmt="{:g}", lfs=11.0,
         parts=[("Unemployment gap", UK_UNEMP, "blue"), ("Real share prices", UK_SHARE, "red"),
                ("House price-to-rent ratio", UK_HPR, "green"), ("OECD Private credit", UK_CREDIT, "orange")],
         prob=UK_PROB,
         legend=[("box", "blue", "Unemployment gap", 102, 132, 1055),
                 ("box", "red", "Real share prices", 244, 273, 1055),
                 ("box", "green", "House price-to-rent ratio", 370, 400, 1055),
                 ("box", "orange", "OECD Private credit", 102, 132, 1068),
                 ("line", "total", "Total", 244, 273, 1068),
                 ("line", "prob", "Probability (right-axis)", 370, 400, 1068)]),
    dict(title="Italy", tx=936, ty=757, box=(745, 783, 1121, 1011), lim=9.05,
         lticks=rng(-7.5, 7.5, 2.5), lfmt="{:.1f}", lfs=10.7,
         parts=[("House price-to-income ratio", IT_HPI, "blue"), ("OECD Bank credit", IT_OECD, "red"),
                ("Bank credit", IT_BANK, "green")],
         prob=IT_PROB,
         legend=[("box", "blue", "House price-to-income ratio", 735, 762, 1053),
                 ("box", "red", "OECD Bank credit", 905, 931, 1053),
                 ("box", "green", "Bank credit", 1046, 1073, 1053),
                 ("line", "total", "Total", 735, 762, 1066),
                 ("line", "prob", "Probability (right-axis)", 905, 931, 1066)]),
    dict(title="Canada", tx=319, ty=1099, box=(134, 1131, 505.5, 1354), lim=8.02,
         lticks=rng(-8, 8, 2), lfmt="{:g}", lfs=10.2,
         parts=[("Unemployment gap", CA_UNEMP, "blue"), ("USA Real house prices", CA_USHP, "red"),
                ("Private credit", CA_CREDIT, "green"), ("OECD Real share prices", CA_SHARE, "orange")],
         prob=CA_PROB,
         legend=[("box", "blue", "Unemployment gap", 104, 132, 1394),
                 ("box", "red", "USA Real house prices", 257, 286, 1394),
                 ("box", "green", "Private credit", 404, 433, 1394),
                 ("box", "orange", "OECD Real share prices", 104, 132, 1408),
                 ("line", "total", "Total", 257, 286, 1408),
                 ("line", "prob", "Probability (right-axis)", 404, 433, 1408)]),
    dict(title="Sweden", tx=935, ty=1099, box=(734, 1130, 1119, 1358), lim=4.62,
         lticks=rng(-4, 4, 1), lfmt="{:g}", lfs=10.8,
         parts=[("House price-to-income ratio", SE_HPI, "blue"), ("Bank credit", SE_BANK, "red"),
                ("OECD Bank credit", SE_OECD, "green")],
         prob=SE_PROB,
         legend=[("box", "blue", "House price-to-income ratio", 707, 735, 1399),
                 ("box", "red", "Bank credit", 880, 908, 1399),
                 ("box", "green", "OECD Bank credit", 1024, 1053, 1399),
                 ("line", "total", "Total", 707, 735, 1413),
                 ("line", "prob", "Probability (right-axis)", 880, 908, 1413)]),
]

for p in PANELS:
    for name, vals, _ in p["parts"]:
        assert len(vals) == 124, (p["title"], name, len(vals))
    assert len(p["prob"]) == 124, (p["title"], "prob", len(p["prob"]))


def px(x):
    return x / W


def py(y):
    return 1 - ((y - Y_OFFSET) / Y_SCALE) / H


fig = go.Figure()
layout = dict(width=W, height=H, margin=dict(l=0, r=0, t=0, b=0), autosize=False,
              paper_bgcolor="white", plot_bgcolor="white", barmode="relative",
              showlegend=False, shapes=[], annotations=[])

# page decoration: top rule, grey bands and white chart cards
layout["shapes"].append(dict(type="rect", xref="paper", yref="paper", x0=px(10), x1=1,
                             y0=py(8.7), y1=py(5), fillcolor="#4f81bd", line=dict(width=0),
                             layer="below"))
for top, bot in [(40, 373), (404, 739), (770, 1083), (1113, 1430)]:
    layout["shapes"].append(dict(type="rect", xref="paper", yref="paper", x0=px(10), x1=1,
                                 y0=max(py(bot), 0), y1=py(top), fillcolor=BAND_GRAY,
                                 line=dict(width=0), layer="below"))
for x0, x1, top, bot in [(54, 582, 40, 373), (685, 1194, 40, 373), (63, 574, 404, 739),
                         (680, 1196, 404, 739), (74, 565, 770, 1083), (694, 1178, 770, 1083),
                         (74, 566, 1113, 1430), (692, 1177, 1113, 1430)]:
    layout["shapes"].append(dict(type="rect", xref="paper", yref="paper", x0=px(x0), x1=px(x1),
                                 y0=max(py(bot), 0), y1=py(top), fillcolor="white",
                                 line=dict(width=0), layer="below"))

line_traces = []
for k, p in enumerate(PANELS, start=1):
    L, T, R, B = p["box"]
    xa = "x" if k == 1 else f"x{k}"
    ya = "y" if k == 1 else f"y{2 * k - 1}"
    yb = f"y{2 * k}"
    xkey = "xaxis" if k == 1 else f"xaxis{k}"
    ykey = "yaxis" if k == 1 else f"yaxis{2 * k - 1}"
    y2key = f"yaxis{2 * k}"
    half_year = int(round((R - L) / 31 / 2))

    layout[xkey] = dict(domain=[px(L), px(R)], anchor=ya, range=[1990, 2021],
                        tickmode="array", tickvals=YEAR_TICKS, ticktext=YEAR_LABELS,
                        ticks="outside", ticklen=5, tickwidth=1, tickcolor="#222",
                        ticklabelshift=half_year, tickfont=TICK_FONT,
                        showline=True, mirror=True, linecolor="#222", linewidth=1.5,
                        showgrid=False, zeroline=False, fixedrange=True)
    layout[ykey] = dict(domain=[py(B), py(T)], anchor=xa, range=[-p["lim"], p["lim"]],
                        tickmode="array", tickvals=p["lticks"],
                        ticktext=[p["lfmt"].format(v) for v in p["lticks"]],
                        ticks="outside", ticklen=4, tickwidth=1, tickcolor="#222",
                        tickfont=TICK_FONT, showline=True, mirror=True, linecolor="#222",
                        linewidth=1.5, showgrid=False, zeroline=True, zerolinecolor="#000",
                        zerolinewidth=1, fixedrange=True)
    layout[y2key] = dict(overlaying=ya, side="right", anchor=xa, range=[-1.0, 1.0],
                         tickmode="array", tickvals=PROB_TICKS, ticktext=PROB_LABELS,
                         ticks="outside", ticklen=4, tickwidth=1, tickcolor="#222",
                         tickfont=TICK_FONT, showline=False, showgrid=False, zeroline=False,
                         fixedrange=True)

    # stacked contributions
    for name, vals, col in p["parts"]:
        fig.add_trace(go.Bar(x=QUARTERS, y=vals, name=name, width=0.19,
                             marker=dict(color=FILL[col], line=dict(color=EDGE, width=0.9)),
                             xaxis=xa, yaxis=ya))
    total = [round(sum(vs), 3) for vs in zip(*[v for _, v, _ in p["parts"]])]
    line_traces.append(go.Scatter(x=QUARTERS, y=total, name="Total", mode="lines",
                                  line=dict(color="#000000", width=2.2), xaxis=xa, yaxis=ya))
    line_traces.append(go.Scatter(x=QUARTERS, y=p["prob"], name="Probability (right-axis)",
                                  mode="lines", line=dict(color=PROB_BLUE, width=2.2),
                                  xaxis=xa, yaxis=yb))

    # panel title
    layout["annotations"].append(dict(text=f"<b>{p['title']}</b>", x=px(p["tx"]), y=py(p["ty"]),
                                      xref="paper", yref="paper", xanchor="center", yanchor="middle",
                                      showarrow=False, font=TITLE_FONT))
    # legend
    leg_font = dict(family=SANS, size=p["lfs"], color="#1a1a1a")
    for kind, col, label, x0, x1, yy in p["legend"]:
        if kind == "box":
            layout["shapes"].append(dict(type="rect", xref="paper", yref="paper",
                                         x0=px(x0), x1=px(x1), y0=py(yy + 5.5), y1=py(yy - 5.5),
                                         fillcolor=FILL[col], line=dict(color="#333", width=1)))
        else:
            lc = "#000000" if col == "total" else PROB_BLUE
            layout["shapes"].append(dict(type="line", xref="paper", yref="paper",
                                         x0=px(x0), x1=px(x1), y0=py(yy), y1=py(yy),
                                         line=dict(color=lc, width=3)))
        layout["annotations"].append(dict(text=label, x=px(x1 + 5), y=py(yy), xref="paper",
                                          yref="paper", xanchor="left", yanchor="middle",
                                          showarrow=False, font=leg_font))

for tr in line_traces:
    fig.add_trace(tr)

fig.update_layout(**layout)
fig.write_html("out.html")
